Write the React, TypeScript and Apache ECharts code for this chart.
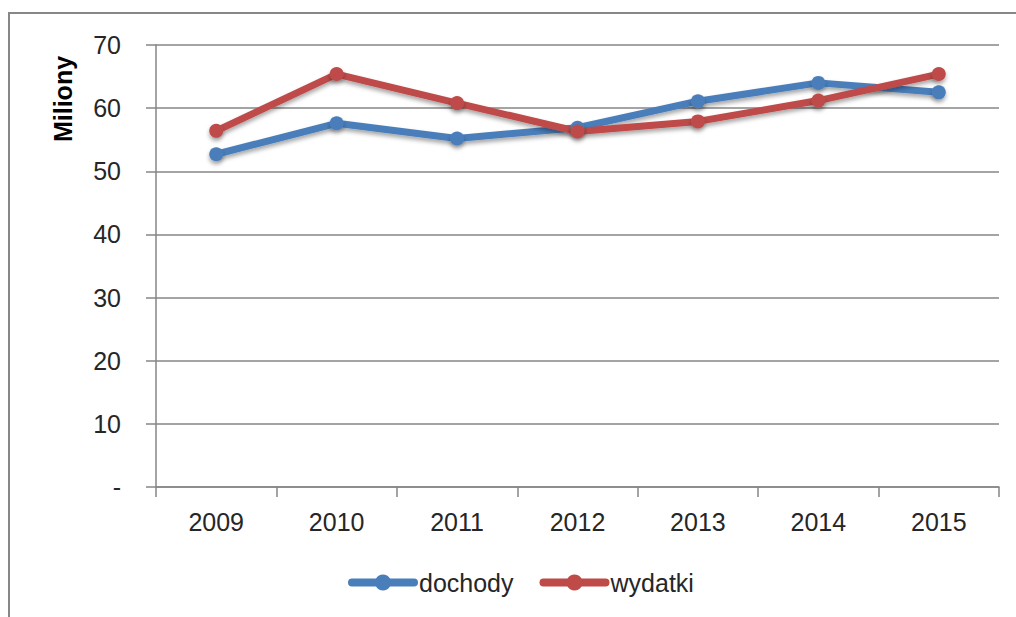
import React, { useEffect, useRef } from "react";
import * as echarts from "echarts";

const years = ["2009", "2010", "2011", "2012", "2013", "2014", "2015"];
const dochody = [52.7, 57.6, 55.2, 56.9, 61.1, 64.0, 62.5];
const wydatki = [56.4, 65.4, 60.8, 56.3, 57.9, 61.2, 65.4];
const seriesNames = ["dochody", "wydatki"];
const yAxisTitle = "Miliony";

const FONT = "'Liberation Sans', Arial, sans-serif";

export default function App() {
  const ref = useRef<HTMLDivElement>(null);
  useEffect(() => {
    if (!ref.current) return;
    const chart = echarts.init(ref.current, undefined, { renderer: "svg" });
    const shadow = {
      shadowBlur: 4,
      shadowColor: "rgba(0,0,0,0.35)",
      shadowOffsetY: 3,
    };
    chart.setOption({
      animation: false,
      backgroundColor: "#ffffff",
      textStyle: { fontFamily: FONT },
      grid: { left: 156, right: 17, top: 45, bottom: 130 },
      graphic: [
        {
          type: "rect",
          shape: { x: 9, y: 13, width: 1200, height: 800 },
          style: { fill: "none", stroke: "#878787", lineWidth: 2 },
          silent: true,
        },
        {
          type: "text",
          x: 63,
          y: 99,
          rotation: Math.PI / 2,
          style: {
            text: yAxisTitle,
            fontFamily: FONT,
            fontSize: 25,
            fontWeight: "bold",
            fill: "#000000",
            align: "center",
            verticalAlign: "middle",
          },
        },
      ],
      legend: {
        left: 343,
        top: 565,
        itemWidth: 62,
        itemHeight: 20,
        itemGap: 26,
        lineStyle: { width: 8, cap: "round" },
        textStyle: { fontFamily: FONT, fontSize: 25, color: "#262626" },
        data: seriesNames,
      },
      xAxis: {
        type: "category",
        data: years,
        boundaryGap: true,
        axisLine: { lineStyle: { color: "#868686", width: 1.5 } },
        axisTick: { show: true, length: 10, lineStyle: { color: "#868686", width: 1.5 } },
        axisLabel: { fontFamily: FONT, fontSize: 25, color: "#262626", margin: 22 },
      },
      yAxis: {
        type: "value",
        min: 0,
        max: 70,
        interval: 10,
        axisLine: { show: true, lineStyle: { color: "#868686", width: 1.5 } },
        axisTick: { show: true, length: 10, lineStyle: { color: "#868686", width: 1.5 } },
        splitLine: { lineStyle: { color: "#868686", width: 1.5 } },
        axisLabel: {
          fontFamily: FONT,
          fontSize: 25,
          color: "#262626",
          margin: 35,
          formatter: (v: number) => (v === 0 ? "-" : String(v)),
        },
      },
      series: [
        {
          name: seriesNames[0],
          type: "line",
          data: dochody,
          symbol: "circle",
          symbolSize: 14,
          color: "#4a7ebb",
          lineStyle: { width: 7, color: "#4a7ebb", ...shadow },
          itemStyle: { color: "#4a7ebb", ...shadow },
        },
        {
          name: seriesNames[1],
          type: "line",
          data: wydatki,
          symbol: "circle",
          symbolSize: 14,
          color: "#be4b48",
          lineStyle: { width: 7, color: "#be4b48", ...shadow },
          itemStyle: { color: "#be4b48", ...shadow },
        },
      ],
    });
    return () => chart.dispose();
  }, []);
  return (
    <div
      ref={ref}
      style={{ position: "fixed", left: 0, top: 0, width: 1016, height: 617 }}
    />
  );
}
